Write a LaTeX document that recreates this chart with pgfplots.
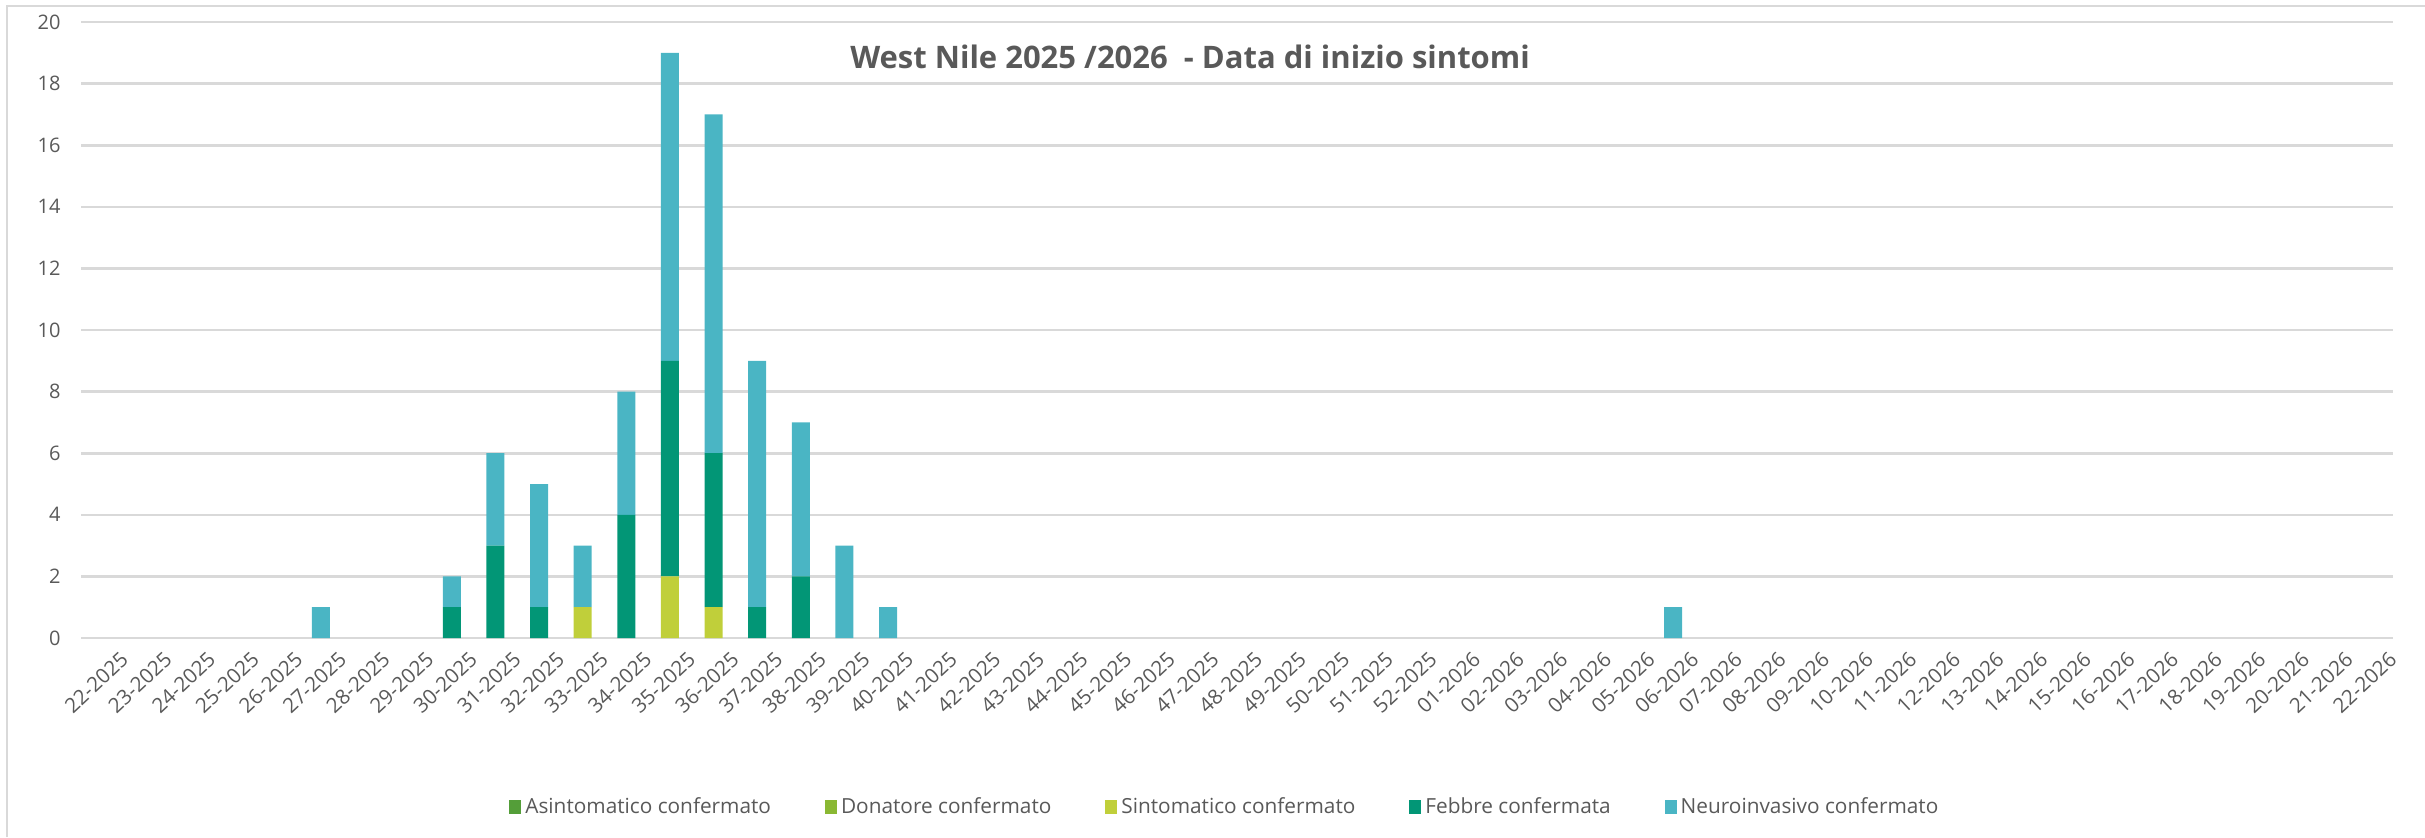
\documentclass[border=0pt]{standalone}
\usepackage{fontspec}
\setmainfont{Open Sans}
\usepackage{pgfplots}
\usepackage{pgfplotstable}
\pgfplotsset{compat=1.18}
\definecolor{cAsin}{HTML}{549E39}
\definecolor{cDon}{HTML}{8AB833}
\definecolor{cSint}{HTML}{C0CF3A}
\definecolor{cFeb}{HTML}{029676}
\definecolor{cNeuro}{HTML}{4AB5C4}
\definecolor{cText}{HTML}{595959}
\definecolor{cGrid}{HTML}{D9D9D9}
\pgfplotstableread{
x asin don sint feb neuro
5 0 0 0 0 1
8 0 0 0 1 1
9 0 0 0 3 3
10 0 0 0 1 4
11 0 0 1 0 2
12 0 0 0 4 4
13 0 0 2 7 10
14 0 0 1 5 11
15 0 0 0 1 8
16 0 0 0 2 5
17 0 0 0 0 3
18 0 0 0 0 1
36 0 0 0 0 1
}\datatable
\begin{document}
\begin{tikzpicture}
\path[use as bounding box] (0,0) rectangle (1212.5pt,418.5pt);
\draw[cGrid, line width=1pt] (3.5pt,0) -- (3.5pt,415.5pt) -- (1212.5pt,415.5pt);
\begin{axis}[
  at={(40.5pt,99.5pt)}, anchor=south west,
  scale only axis, width=1156pt, height=308pt,
  ybar stacked, bar width=9pt,
  xmin=-0.5, xmax=52.5, ymin=0, ymax=20,
  ytick={0,2,...,20},
  xtick={0,...,52},
  xticklabels={22-2025,23-2025,24-2025,25-2025,26-2025,27-2025,28-2025,29-2025,30-2025,31-2025,32-2025,33-2025,34-2025,35-2025,36-2025,37-2025,38-2025,39-2025,40-2025,41-2025,42-2025,43-2025,44-2025,45-2025,46-2025,47-2025,48-2025,49-2025,50-2025,51-2025,52-2025,01-2026,02-2026,03-2026,04-2026,05-2026,06-2026,07-2026,08-2026,09-2026,10-2026,11-2026,12-2026,13-2026,14-2026,15-2026,16-2026,17-2026,18-2026,19-2026,20-2026,21-2026,22-2026},
  major tick length=0pt,
  axis line style={draw=none},
  ymajorgrids, major grid style={cGrid, line width=1.3pt},
  /pgf/number format/assume math mode=true,
  y tick label style={font=\fontsize{10}{12}\selectfont, text=cText, anchor=east, inner sep=0pt, xshift=-10pt},
  x tick label style={font=\fontsize{10.3}{12}\selectfont, text=cText, rotate=43, anchor=north east, inner sep=0pt, xshift=2pt, yshift=-10pt},
  legend columns=5,
  legend style={at={(0.4952,-0.2744)}, anchor=center, draw=none, fill=none,
    font=\fontsize{10.4}{12}\selectfont, text=cText,
    /tikz/every even column/.append style={column sep=25pt},
    inner sep=0pt},
  legend image code/.code={\fill[#1] (0pt,-3.5pt) rectangle (6pt,3.5pt);},
  legend cell align=left,
  clip=false,
]
\addplot[fill=cAsin, draw=none] table[x=x, y=asin] {\datatable};
\addlegendentry{Asintomatico confermato}
\addplot[fill=cDon, draw=none] table[x=x, y=don] {\datatable};
\addlegendentry{Donatore confermato}
\addplot[fill=cSint, draw=none] table[x=x, y=sint] {\datatable};
\addlegendentry{Sintomatico confermato}
\addplot[fill=cFeb, draw=none] table[x=x, y=feb] {\datatable};
\addlegendentry{Febbre confermata}
\addplot[fill=cNeuro, draw=none] table[x=x, y=neuro] {\datatable};
\addlegendentry{Neuroinvasivo confermato}
\node[anchor=base, text=cText, font=\fontsize{15.5}{18}\selectfont\bfseries] at (axis description cs:0.4797,0.9253) {West Nile 2025 /2026 ~- Data di inizio sintomi};
\end{axis}
\end{tikzpicture}
\end{document}
